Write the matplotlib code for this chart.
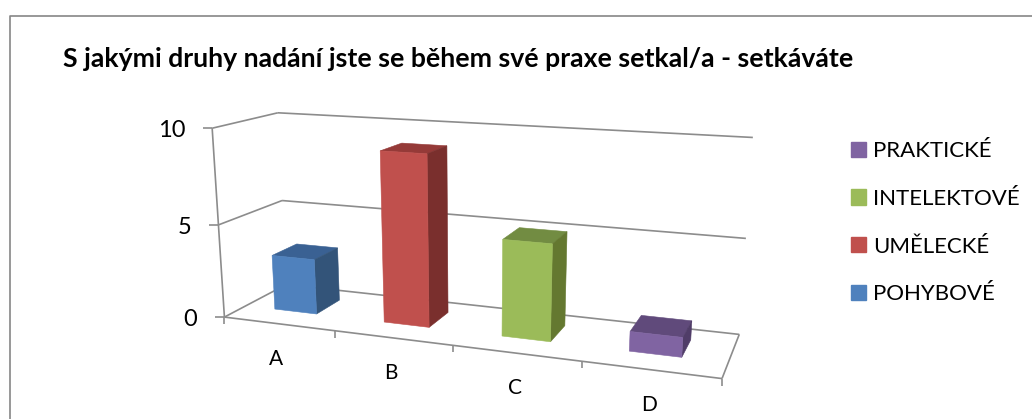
import matplotlib
matplotlib.use('Agg')
import matplotlib.pyplot as plt
from matplotlib.patches import Polygon, Patch
import numpy as np

plt.rcParams['font.family'] = ['Lato', 'DejaVu Sans']

title = 'S jakými druhy nadání jste se během své praxe setkal/a - setkáváte'
categories = ['A', 'B', 'C', 'D']
series_names = ['POHYBOVÉ', 'UMĚLECKÉ', 'INTELEKTOVÉ', 'PRAKTICKÉ']
values = [3, 9, 5, 1]
y_ticks = [0, 5, 10]

front_colors = ['#4F81BD', '#C0504D', '#9BBB59', '#8064A2']
top_colors = ['#3A6193', '#953A38', '#728C42', '#604A7B']
side_colors = ['#335479', '#7A2F2D', '#647830', '#503D68']
grid_color = '#8C8C8C'

# chart space (category, value, depth) -> picture pixels, fitted on the box corners
corners = [
    ((0, 0, 0), (225, 316)), ((4, 0, 0), (722, 380)),
    ((0, 0, 1), (286, 287)), ((4, 0, 1), (739, 333)),
    ((0, 5, 0), (218, 224)), ((0, 5, 1), (282, 199)), ((4, 5, 1), (746, 238)),
    ((0, 10, 0), (212, 129)), ((0, 10, 1), (278, 113)), ((4, 10, 1), (753, 138)),
]
rows = []
rhs = []
for (x, y, z), (u, v) in corners:
    rows.append([x, y, z, 1, 0, 0, 0, 0, -u * x, -u * y, -u * z])
    rhs.append(u)
    rows.append([0, 0, 0, 0, x, y, z, 1, -v * x, -v * y, -v * z])
    rhs.append(v)
cam = np.linalg.lstsq(np.array(rows, float), np.array(rhs, float), rcond=None)[0]
cam = np.append(cam, 1).reshape(3, 4)


def project(x, y, z):
    p = cam @ np.array([x, y, z, 1.0])
    return p[0] / p[2], p[1] / p[2]


fig = plt.figure(figsize=(10.32, 4.19), dpi=100)
ax = fig.add_axes([0, 0, 1, 1])
ax.set_xlim(0, 1032)
ax.set_ylim(419, 0)
ax.axis('off')


def line(a, b, lw=1.2):
    ax.plot([a[0], b[0]], [a[1], b[1]], color=grid_color, lw=lw, solid_capstyle='butt', zorder=1)


# outer border of the chart
ax.plot([10, 10, 1032], [419, 16, 16], color='#868686', lw=1.2, zorder=1)

# walls and floor
for tick in y_ticks:
    left = project(0, tick, 0)
    line((left[0] - 9, left[1]), left)
    line(left, project(0, tick, 1))
    line(project(0, tick, 1), project(4, tick, 1))
line(project(0, 0, 0), project(0, 10, 0))
line(project(0, 0, 0), project(4, 0, 0))
line(project(4, 0, 0), project(4, 0, 1))
for i in range(5):
    p = project(i, 0, 0)
    line(p, (p[0], p[1] + 7))

# bars
half_width = 0.195
bar_center = 0.47
z0, z1 = 0.33, 0.74
for i, val in enumerate(values):
    xa = i + bar_center - half_width
    xb = i + bar_center + half_width
    faces = [
        ([(xa, val, z0), (xb, val, z0), (xb, val, z1), (xa, val, z1)], top_colors[i]),
        ([(xb, 0, z0), (xb, val, z0), (xb, val, z1), (xb, 0, z1)], side_colors[i]),
        ([(xa, 0, z0), (xb, 0, z0), (xb, val, z0), (xa, val, z0)], front_colors[i]),
    ]
    for pts, col in faces:
        ax.add_patch(Polygon([project(*p) for p in pts], closed=True, facecolor=col,
                             edgecolor=col, lw=0.4, zorder=3))

# labels
for tick in y_ticks:
    p = project(0, tick, 0)
    ax.text(p[0] - 27, p[1] + 2.5, str(tick), ha='right', va='center', fontsize=17, color='black')
for i, cat in enumerate(categories):
    p = project(i + 0.5, 0, 0)
    ax.text(p[0] - 2, p[1] + 35, cat, ha='center', va='center', fontsize=15, color='black')

ax.text(63, 59, title, ha='left', va='center', fontsize=19.15, fontweight='bold', color='black')

handles = [Patch(facecolor=c, edgecolor=c) for c in front_colors]
leg = ax.legend(handles[::-1], series_names[::-1], loc='upper left', bbox_to_anchor=(851 / 1032, 1 - 141 / 419),
                frameon=False, fontsize=16, handlelength=0.67, handleheight=0.67, handletextpad=0.32,
                labelspacing=1.25, borderpad=0, borderaxespad=0)

fig.savefig('out.png', dpi=100)
